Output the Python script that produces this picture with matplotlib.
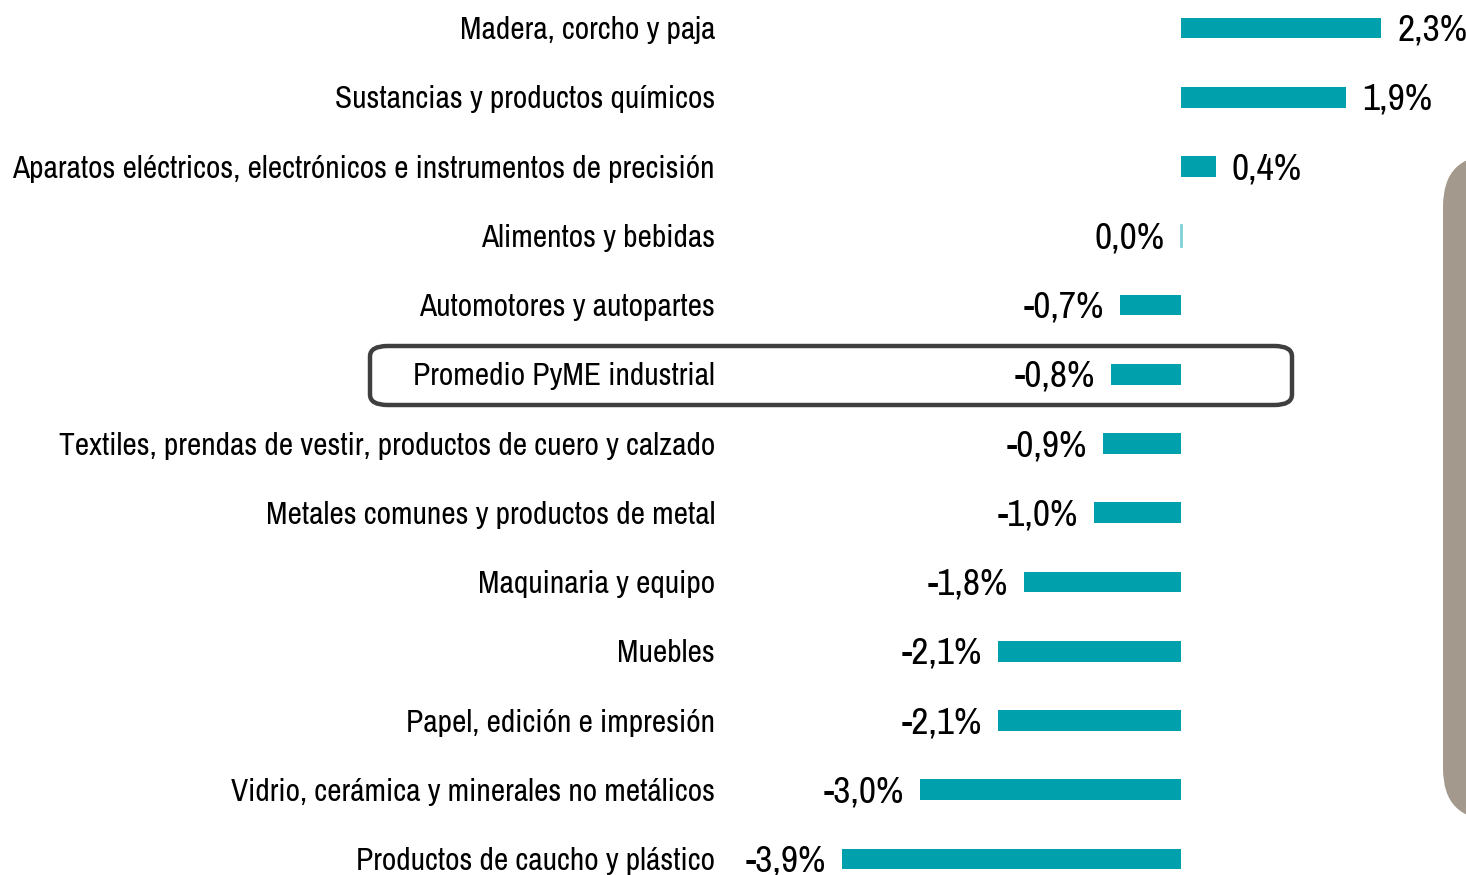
import matplotlib.pyplot as plt
from matplotlib.patches import FancyBboxPatch

categories = [
    "Madera, corcho y paja",
    "Sustancias y productos químicos",
    "Aparatos eléctricos, electrónicos e instrumentos de precisión",
    "Alimentos y bebidas",
    "Automotores y autopartes",
    "Promedio PyME industrial",
    "Textiles, prendas de vestir, productos de cuero y calzado",
    "Metales comunes y productos de metal",
    "Maquinaria y equipo",
    "Muebles",
    "Papel, edición e impresión",
    "Vidrio, cerámica y minerales no metálicos",
    "Productos de caucho y plástico",
]
values = [2.3, 1.9, 0.4, 0.0, -0.7, -0.8, -0.9, -1.0, -1.8, -2.1, -2.1, -3.0, -3.9]
value_labels = ["2,3%", "1,9%", "0,4%", "0,0%", "-0,7%", "-0,8%", "-0,9%", "-1,0%",
                "-1,8%", "-2,1%", "-2,1%", "-3,0%", "-3,9%"]

teal = "#00A1AD"
font = ["Archivo Narrow", "Roboto Condensed", "DejaVu Sans"]

W, H = 1466, 875
fig = plt.figure(figsize=(W / 100, H / 100), dpi=100)
ax = fig.add_axes([0, 0, 1, 1])

px_per_unit = 87.0
zero_px = 1181
ax.set_xlim(-zero_px / px_per_unit, (W - zero_px) / px_per_unit)
row_px = 69.25
top_px = 28
ax.set_ylim((H - top_px) / row_px, -top_px / row_px)
ax.axis("off")

y = list(range(len(categories)))
ax.barh(y, values, height=0.3, color=teal, zorder=3)

label_x = (715 - zero_px) / px_per_unit
gap = 16 / px_per_unit
dy = 0.03  # text sits a touch below the bar centre
for i, (cat, v, lab) in enumerate(zip(categories, values, value_labels)):
    ax.text(label_x, i + dy, cat, ha="right", va="center", fontsize=22.6, family=font)
    if v > 0:
        ax.text(v + gap, i + dy, lab, ha="left", va="center", fontsize=27, family=font)
    else:
        ax.text(v - gap, i + dy, lab, ha="right", va="center", fontsize=27, family=font)
    if v == 0:
        ax.plot([0, 0], [i - 0.15, i + 0.15], color="#7fd0d6", lw=2, zorder=3)

# highlight box around the average row
box = FancyBboxPatch((370 / W, 1 - 405 / H), (1292 - 370) / W, (405 - 346) / H,
                     boxstyle="round,pad=0,rounding_size=0.012",
                     transform=fig.transFigure, fill=False,
                     edgecolor="#3f3f3f", linewidth=3.2)
fig.patches.append(box)

# grey panel cut off at the right edge
panel = FancyBboxPatch((1443 / W, 1 - 820 / H), 120 / W, (820 - 155) / H,
                       boxstyle="round,pad=0,rounding_size=0.035",
                       transform=fig.transFigure, facecolor="#A39A8D",
                       edgecolor="none", mutation_aspect=W / H)
fig.patches.append(panel)

fig.savefig("out.png", dpi=100)
